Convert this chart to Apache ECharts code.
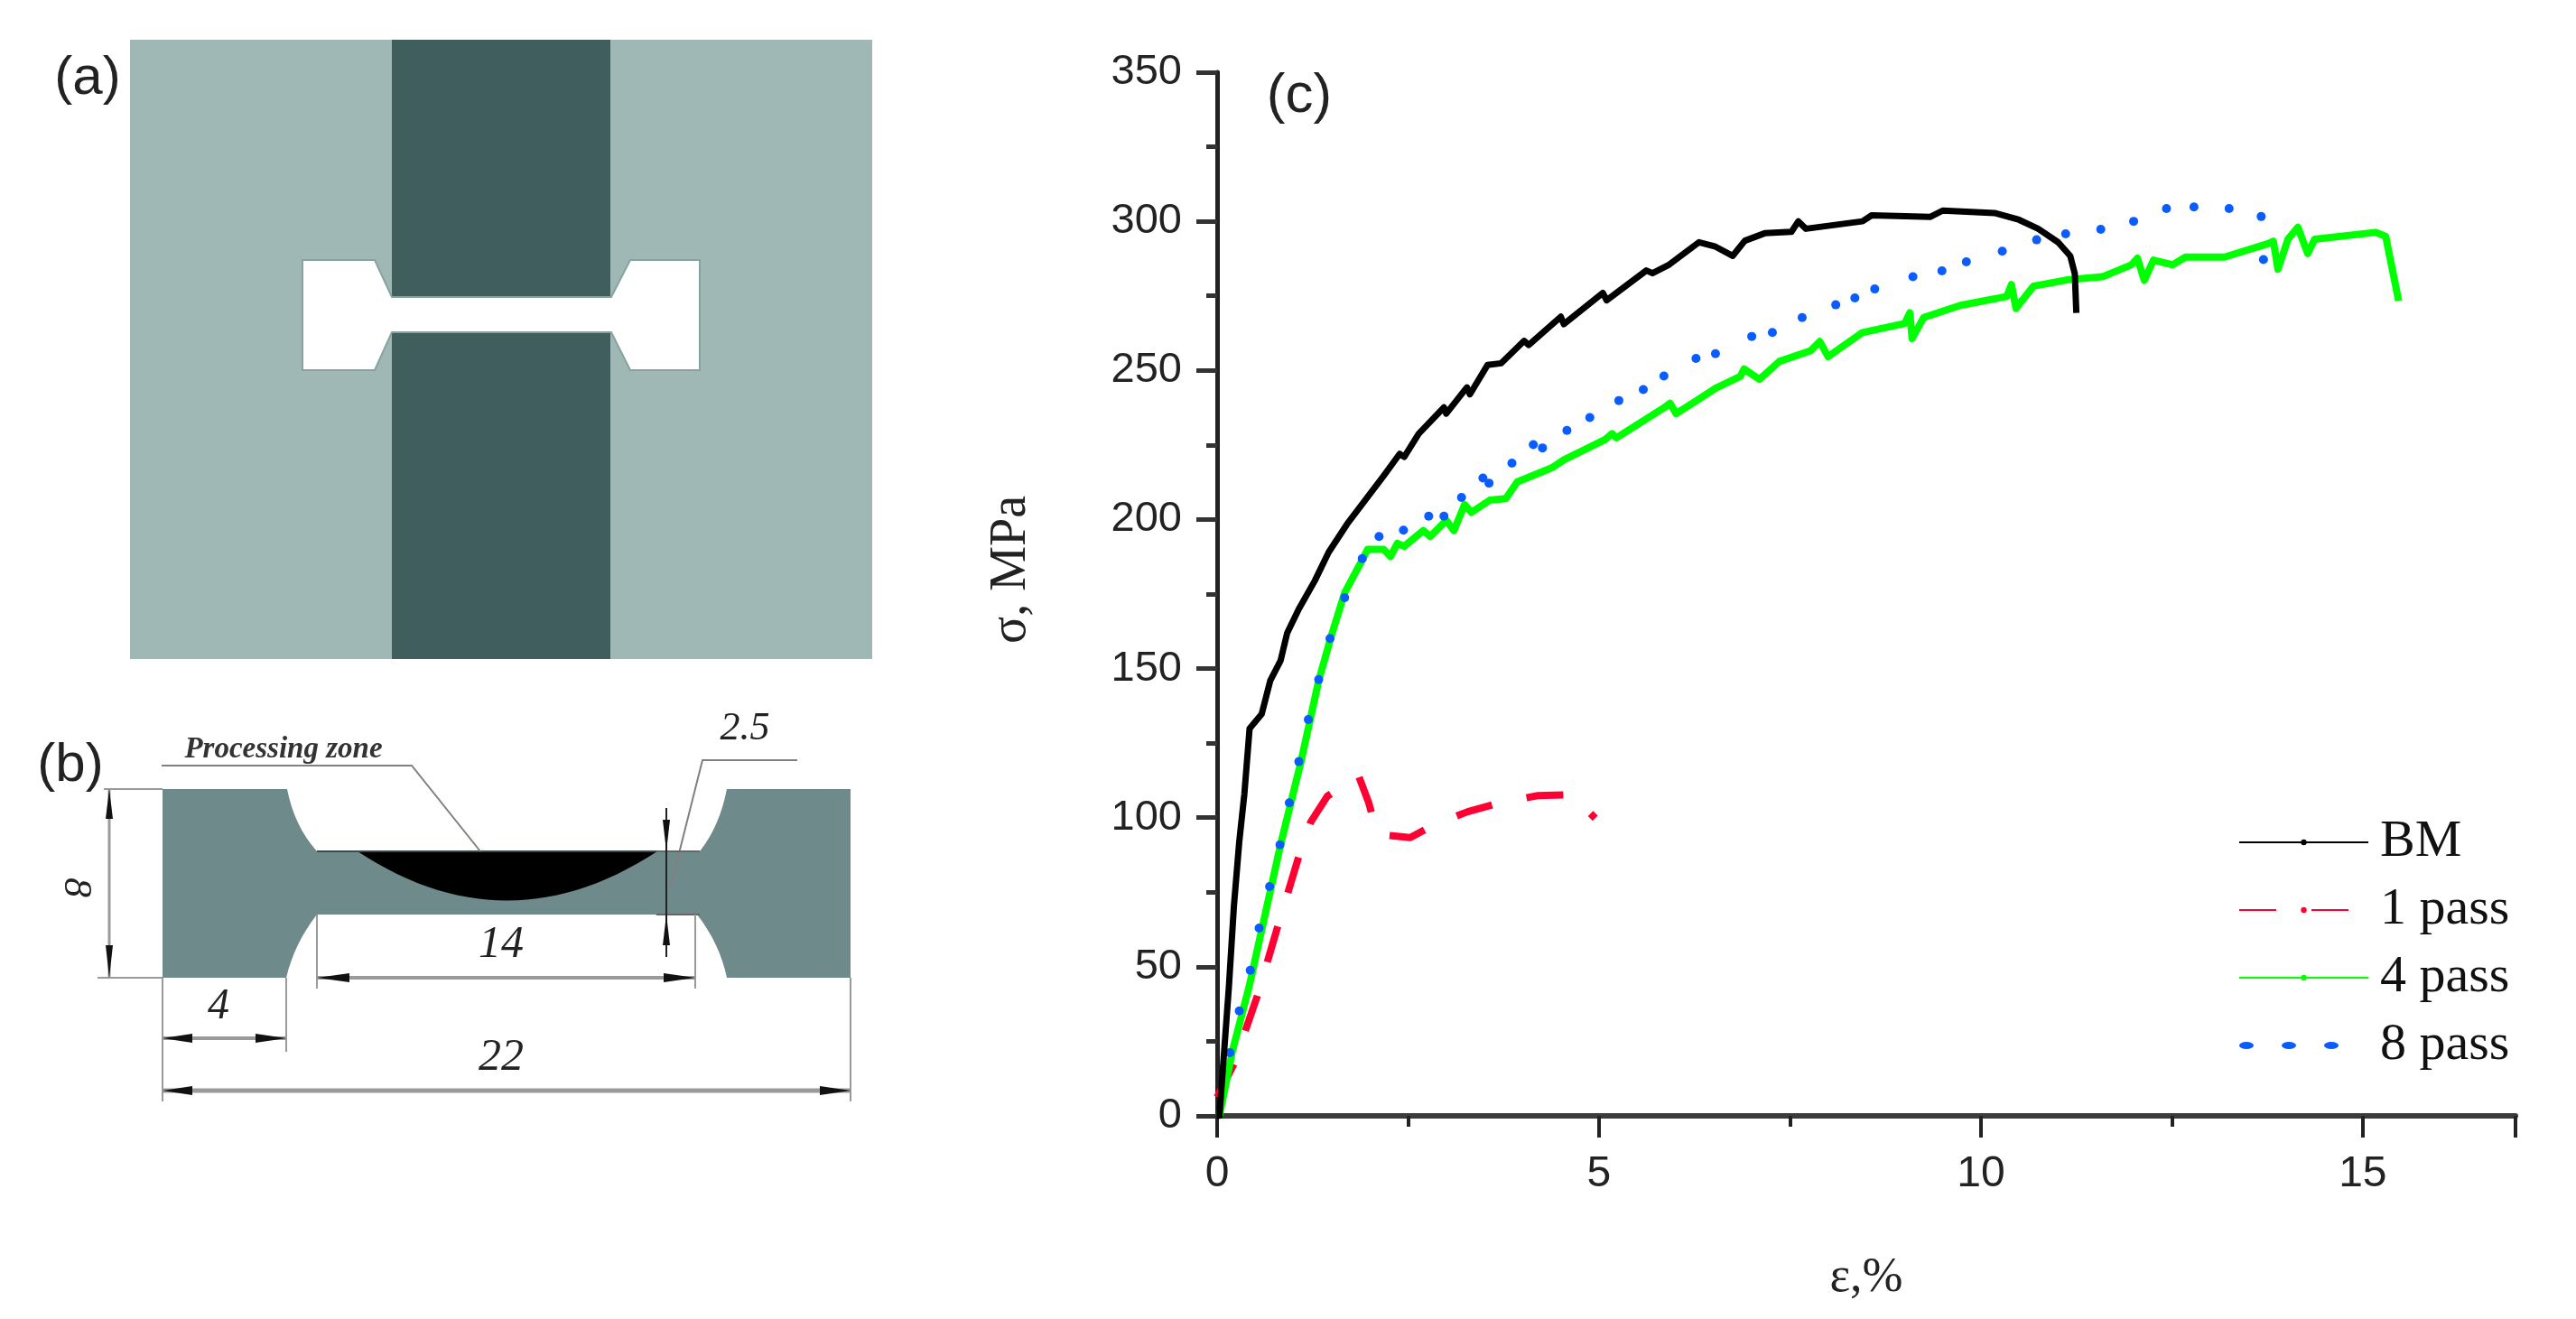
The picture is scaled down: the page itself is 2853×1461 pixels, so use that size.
<!DOCTYPE html>
<html>
<head>
<meta charset="utf-8">
<style>html,body{margin:0;padding:0;background:#fff}#c{width:2853px;height:1461px}</style>
<script src="https://cdn.jsdelivr.net/npm/echarts@6/dist/echarts.min.js"></script>
</head>
<body>
<div id="c"></div>
<script>
const seriesNames = ['BM', '1 pass', '4 pass', '8 pass'];

const bm = [[0,0],[0.03,0],[0.154,43.3],[0.22,70.4],[0.29,92],[0.357,108],[0.425,129.9],[0.583,134.7],[0.696,146],[0.83,152.6],[0.917,161.9],[1.07,170],[1.28,179.5],[1.46,189],[1.7,198.4],[1.94,206.5],[2.18,214.6],[2.39,222],[2.45,221],[2.64,228.8],[2.97,237.6],[3.0,235.5],[3.27,244.3],[3.31,242],[3.54,251.8],[3.72,252.4],[4.02,259.9],[4.08,258.5],[4.5,268],[4.54,265.5],[5.05,276],[5.1,273.5],[5.62,283.5],[5.7,282.6],[5.92,285.5],[6.31,293],[6.525,291.5],[6.75,288.4],[6.91,293.5],[7.17,296],[7.52,296.5],[7.61,300],[7.71,297.5],[8.45,300],[8.57,302],[9.34,301.5],[9.5,303.6],[10.18,302.8],[10.5,300.5],[10.75,297.5],[11.01,293],[11.17,288.4],[11.23,282.4],[11.25,269.3]];

const pass1 = [[0,6.3],[0.22,17.4],[0.525,40.1],[0.796,63.7],[1.067,86.8],[1.225,98.5],[1.443,107.2],[1.85,114.2],[1.985,105],[2.1,94.4],[2.53,93.3],[2.845,97.7],[3.28,102],[3.73,105.2],[4.2,107.4],[4.65,107.7],[4.95,99.8]];

const pass4 = [[0.03,0],[0.2,21.7],[0.425,44],[0.83,90.9],[1.1,119],[1.33,146],[1.49,160.5],[1.67,175.4],[1.91,186.9],[1.97,190],[2.18,190],[2.27,187.6],[2.36,192],[2.45,191],[2.7,196.3],[2.79,194.3],[3.0,199.7],[3.1,196.3],[3.24,205],[3.33,202.4],[3.57,206.5],[3.78,207],[3.93,212.6],[4.38,217.3],[4.54,220],[5.08,226.8],[5.17,228.8],[5.23,227.4],[5.86,237.6],[5.93,239],[6.01,235.5],[6.22,238.9],[6.525,244],[6.85,248],[6.9,250.5],[7.1,247],[7.36,253],[7.77,256.6],[7.89,259.7],[8.0,254.6],[8.45,262.7],[9.0,265.7],[9.07,269.3],[9.1,260.7],[9.25,267.7],[9.73,271.8],[10.34,274.8],[10.4,278.8],[10.46,270.8],[10.69,278.3],[11.14,280.4],[11.59,281.4],[11.97,285.4],[12.05,287.6],[12.14,280.2],[12.26,287],[12.51,285.4],[12.68,288],[13.19,288],[13.76,292.5],[13.83,293.3],[13.89,283.9],[14.02,294],[14.15,298],[14.28,289.2],[14.37,294],[15.17,296.3],[15.3,295],[15.47,273.3]];

const pass8 = [[0.167,21.2],[0.29,35.2],[0.434,48.8],[0.55,63],[0.687,76.9],[0.823,90.9],[0.945,105],[1.07,118.8],[1.194,132.9],[1.33,146.3],[1.478,160.1],[1.67,173.8],[1.9,186.9],[2.12,194.3],[2.44,196.4],[2.77,201.1],[2.97,201.1],[3.2,207.4],[3.48,213.9],[3.56,212.2],[3.86,218.9],[4.14,225.1],[4.26,224],[4.58,229.9],[4.88,234.2],[5.26,239.9],[5.58,243.6],[5.85,248.1],[6.27,254],[6.525,255.6],[7.0,261.4],[7.27,262.7],[7.66,267.7],[8.1,272],[8.35,274.3],[8.61,277.3],[9.11,281.4],[9.49,283.4],[9.81,286.4],[10.28,290],[10.73,293.8],[11.11,295.8],[11.57,297.3],[12.0,300],[12.43,304.3],[12.79,304.8],[13.25,304.3],[13.67,301.6],[13.7,287.2]];

const xMin = 0, xMax = 17, xStep = 5;
const yMin = 0, yMax = 350, yStep = 50;

const SANS = '"Liberation Sans", Arial, sans-serif';
const SERIF = '"Liberation Serif", "Times New Roman", serif';

/* ---------- schematic panels (a) and (b) ---------- */
const g = [];
function rect(x, y, w, h, fill, z) { g.push({type:'rect', shape:{x,y,width:w,height:h}, style:{fill}, z:z||1, silent:true}); }
function poly(points, fill, stroke, lw, z) { g.push({type:'polygon', shape:{points}, style:{fill, stroke:stroke||null, lineWidth:lw||0}, z:z||1, silent:true}); }
function pline(points, stroke, lw, z) { g.push({type:'polyline', shape:{points}, style:{stroke, lineWidth:lw, fill:null}, z:z||5, silent:true}); }
function txt(text, x, y, font, fill, rotation) {
  g.push({type:'text', x, y, rotation:rotation||0, originX:0, originY:0, z:10, silent:true,
    style:{text, font, fill:fill||'#222', textAlign:'center', textVerticalAlign:'middle'}});
}
function quad(a, c, b, n) {
  const out = [];
  for (let i = 0; i <= n; i++) {
    const t = i / n, u = 1 - t;
    out.push([u*u*a[0] + 2*u*t*c[0] + t*t*b[0], u*u*a[1] + 2*u*t*c[1] + t*t*b[1]]);
  }
  return out;
}
function arrow(tip, base, hw) {
  if (tip[0] === base[0]) poly([tip, [base[0]-hw, base[1]], [base[0]+hw, base[1]]], '#111', null, 0, 6);
  else poly([tip, [base[0], base[1]-hw], [base[0], base[1]+hw]], '#111', null, 0, 6);
}

/* panel (a) */
rect(144, 44, 822, 686, '#9fb8b5', 1);
rect(434, 44, 242, 686, '#415e5f', 2);
poly([[335,288],[415,288],[434,329],[677,329],[698,288],[775,288],[775,410],[698,410],[677,368],[434,368],[415,410],[335,410]], '#ffffff', '#86a3a0', 2, 3);
txt('(a)', 97, 87, '60px ' + SANS, '#222');

/* panel (b) */
const shape = [].concat(
  [[180,874],[318,874]],
  quad([318,874],[326,915],[351,943],8),
  [[775,943]],
  quad([775,943],[797,915],[805,874],8),
  [[942,874],[942,1083],[805,1083]],
  quad([805,1083],[797,1045],[772,1013],8),
  [[351,1013]],
  quad([351,1013],[326,1045],[317,1083],8),
  [[180,1083]]
);
poly(shape, '#6f8a8b', null, 0, 1);
poly(quad([396,943],[561,1052],[728,943],30), '#000000', null, 0, 2);
pline([[351,943],[775,943]], '#3a4a4b', 2, 3);

const GREY = '#9a9a9a';
pline([[179,848],[456,848],[532,943]], '#808080', 2);
pline([[883,842],[778,842],[742,985]], '#808080', 2);
pline([[727,943],[775,943]], '#666', 2);
pline([[727,1013],[775,1013]], '#666', 2);
pline([[738,895],[738,1060]], '#222', 2);
arrow([738,943],[738,908],4);
arrow([738,1013],[738,1047],4);

pline([[115,874],[180,874]], GREY, 2);
pline([[108,1083],[180,1083]], GREY, 2);
pline([[121,874],[121,1083]], GREY, 3);
arrow([121,874],[121,907],4);
arrow([121,1083],[121,1047],4);

pline([[351,1013],[351,1095]], GREY, 2);
pline([[770,1013],[770,1095]], GREY, 2);
pline([[351,1083],[770,1083]], GREY, 4);
arrow([351,1083],[387,1083],5);
arrow([770,1083],[735,1083],5);

pline([[180,1083],[180,1220]], GREY, 2);
pline([[942,1083],[942,1220]], GREY, 2);
pline([[317,1083],[317,1165]], GREY, 2);
pline([[180,1150],[317,1150]], GREY, 4);
arrow([180,1150],[213,1150],5);
arrow([317,1150],[283,1150],5);
pline([[180,1208],[942,1208]], GREY, 5);
arrow([180,1208],[213,1208],5);
arrow([942,1208],[908,1208],5);

const IT = 'italic 44px ' + SERIF;
txt('Processing zone', 314, 830, 'italic bold 33px ' + SERIF, '#333');
txt('2.5', 825, 807, IT, '#222');
txt('8', 84, 983, IT, '#222', -Math.PI/2);
txt('14', 555, 1047, 'italic 50px ' + SERIF, '#222');
txt('4', 242, 1115, 'italic 48px ' + SERIF, '#222');
txt('22', 555, 1172, 'italic 50px ' + SERIF, '#222');
txt('(b)', 78, 848, '60px ' + SANS, '#222');

/* label (c) */
txt('(c)', 1439, 107, '62px ' + SANS, '#222');

/* ---------- chart (c) ---------- */
const dots = 'path://M0,4a8,4 0 1,0 16,0a8,4 0 1,0 -16,0z M47,4a8,4 0 1,0 16,0a8,4 0 1,0 -16,0z M94,4a8,4 0 1,0 16,0a8,4 0 1,0 -16,0z M143,4h0.01v0.01h-0.01z';

const chart = echarts.init(document.getElementById('c'), null, {renderer:'canvas'});
chart.setOption({
  animation:false,
  backgroundColor:'#ffffff',
  grid:{left:1348, right:67, top:80, bottom:225, containLabel:false},
  xAxis:{
    type:'value', min:xMin, max:xMax, interval:xStep,
    name:'ε,%', nameLocation:'middle', nameGap:153,
    nameTextStyle:{fontFamily:SERIF, fontSize:54, color:'#222'},
    splitLine:{show:false},
    axisLine:{show:true, onZero:false, lineStyle:{color:'#3c3c3c', width:6}},
    axisTick:{show:true, inside:false, length:24, lineStyle:{color:'#222', width:4}},
    minorTick:{show:true, splitNumber:2, length:12, lineStyle:{color:'#222', width:4}},
    axisLabel:{fontFamily:SANS, fontSize:48, color:'#222', margin:41, showMaxLabel:false, hideOverlap:false,
      customValues:null}
  },
  yAxis:{
    type:'value', min:yMin, max:yMax, interval:yStep,
    name:'σ, MPa', nameLocation:'middle', nameGap:200,
    nameTextStyle:{fontFamily:SERIF, fontSize:56, color:'#222', padding:[0,0,0,54]},
    splitLine:{show:false},
    axisLine:{show:true, onZero:false, lineStyle:{color:'#222', width:5}},
    axisTick:{show:true, inside:false, length:23, lineStyle:{color:'#333', width:5}},
    minorTick:{show:true, splitNumber:2, length:12, lineStyle:{color:'#333', width:5}},
    axisLabel:{fontFamily:SANS, fontSize:47, color:'#222', margin:39}
  },
  legend:{
    orient:'vertical', left:2474, top:899, itemWidth:143, itemHeight:8, itemGap:17,
    selectedMode:false,
    textStyle:{fontFamily:SERIF, fontSize:58, color:'#111', padding:[0,0,0,8]},
    data:[{name:seriesNames[0]},{name:seriesNames[1]},{name:seriesNames[2]},{name:seriesNames[3], icon:dots}]
  },
  series:[
    {name:seriesNames[1], type:'line', data:pass1, symbol:'none', z:2,
     lineStyle:{color:'#ff0033', width:8, type:[41,39]}, itemStyle:{color:'#ff0033'}},
    {name:seriesNames[2], type:'line', data:pass4, symbol:'none', z:3,
     lineStyle:{color:'#00ff00', width:8, join:'round'}, itemStyle:{color:'#00ff00'}},
    {name:seriesNames[3], type:'line', data:pass8, symbol:'circle', symbolSize:10, showSymbol:true, showAllSymbol:true, z:4,
     lineStyle:{width:0, opacity:0}, itemStyle:{color:'#0a5cff'}},
    {name:seriesNames[0], type:'line', data:bm, symbol:'none', z:5,
     lineStyle:{color:'#000000', width:7, join:'round'}, itemStyle:{color:'#000000'}}
  ],
  graphic:{elements:g}
});
</script>
</body>
</html>
